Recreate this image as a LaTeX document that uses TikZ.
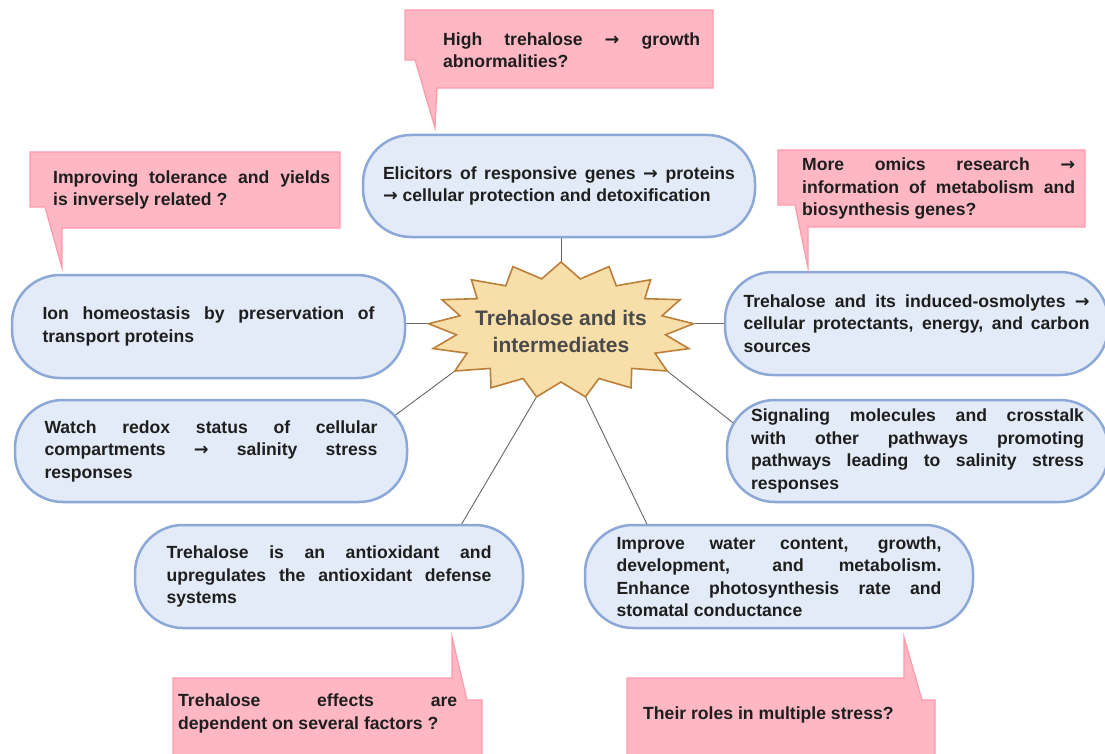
\documentclass[tikz,border=0pt]{standalone}
\usepackage{fontspec}
\setmainfont{Liberation Sans}
\newfontfamily\arrowfont{DejaVu Sans}
\newcommand\rarr{{\arrowfont\bfseries →}}
\usetikzlibrary{calc}
\usetikzlibrary{backgrounds}
\definecolor{boxfill}{HTML}{E3EBF8}
\definecolor{boxline}{HTML}{8CA8D6}
\definecolor{notefill}{HTML}{FFB7C3}
\definecolor{noteline}{HTML}{FF9AAD}
\definecolor{starfill}{HTML}{F8DFAA}
\definecolor{starline}{HTML}{BC7F3A}
\definecolor{startext}{HTML}{4A4A4A}
\definecolor{textdark}{HTML}{1E1E1E}
\tikzset{role/.style = {draw=boxline, fill=boxfill, line width=2.5pt,
                        rounded corners=48pt, align=justify, text=textdark,
                        font=\fontsize{17.6}{22.5}\selectfont\bfseries},
         note/.style = {draw=noteline, fill=notefill, line width=1.2pt},
         notetext/.style = {anchor=west, inner sep=0pt, align=justify, text=textdark,
                            font=\fontsize{17.6}{22.5}\selectfont\bfseries},
         burst/.style = {draw=starline, fill=starfill, line width=1.6pt, line join=miter},
         link/.style = {draw=black!60, line width=0.9pt}}

\begin{document}
\begin{tikzpicture}[x=1pt, y=-1pt]
    \useasboundingbox (0, 0) rectangle (1105, 754);

    \node[role, minimum width=392pt, minimum height=102pt, text width=352pt] (elic) at (559, 186)
      {Elicitors of responsive genes \rarr{} proteins\linebreak \rarr{} cellular protection and detoxification};
    \node[role, minimum width=393pt, minimum height=103pt, text width=332pt] (ion) at (208.5, 326.5)
      {Ion homeostasis by preservation of\linebreak transport proteins};
    \node[role, minimum width=383pt, minimum height=103pt, text width=346pt] (treh) at (916.5, 323.5)
      {Trehalose and its induced-osmolytes \rarr\linebreak cellular protectants, energy, and carbon\linebreak sources};
    \node[role, minimum width=392pt, minimum height=102pt, text width=333pt] (watch) at (211, 451)
      {Watch redox status of cellular\linebreak compartments \rarr{} salinity stress\linebreak responses};
    \node[role, minimum width=381pt, minimum height=102pt, text width=333pt] (signal) at (917.5, 451)
      {Signaling molecules and crosstalk\linebreak with other pathways promoting\linebreak pathways leading to salinity stress\linebreak responses};
    \node[role, minimum width=388pt, minimum height=103pt, text width=325pt] (antiox) at (329, 576.5)
      {Trehalose is an antioxidant and\linebreak upregulates the antioxidant defense\linebreak systems};
    \node[role, minimum width=388pt, minimum height=103pt, text width=325pt] (improve) at (779, 576.5)
      {Improve water content, growth,\linebreak development, and metabolism.\linebreak Enhance photosynthesis rate and\linebreak stomatal conductance};

    \foreach \k in {0,...,16} {
      \pgfmathsetmacro\a{90 + \k*360/17}
      \coordinate (s\k) at ({561 + 133*cos(\a)}, {330 - 68*sin(\a)});
    }
    \foreach \k in {1,...,17} {
      \pgfmathsetmacro\a{90 + (\k - 0.5)*360/17}
      \coordinate (v\k) at ({561 + 105*cos(\a)}, {330 - 52*sin(\a)});
    }
    \draw[burst] (s0) \foreach \k in {1,...,16} { -- (v\k) -- (s\k) } -- (v17) -- cycle;
    \node[font=\fontsize{21}{27}\selectfont\bfseries, text=startext, align=center] (core) at (561, 331)
      {Trehalose and its\\intermediates};

    \begin{scope}[on background layer]
      \draw[link] (s0) -- (s0 |- elic.south);
      \draw[link] (s4) -- (s4 -| ion.east);
      \draw[link] (s13) -- (s13 -| treh.west);
      \draw[link] (s6) -- ([xshift=-37pt, yshift=18pt]watch.east);
      \draw[link] (s11) -- ([xshift=33pt, yshift=8pt]signal.west);
      \draw[link] (s8) -- ([xshift=124pt, yshift=-15pt]antiox.north);
      \draw[link] (s9) -- ([xshift=-125pt, yshift=-15pt]improve.north);
    \end{scope}

    \draw[note] (405, 10) -- (713, 10) -- (713, 88) -- (437, 88) -- (435, 128) -- (415, 60) -- (405, 60) -- cycle;
    \node[notetext, text width=257pt] (high) at (443, 50)
      {High trehalose \rarr{} growth\linebreak abnormalities?};
    \draw[note] (30, 152) -- (340, 152) -- (340, 228) -- (62, 228) -- (62, 268) -- (45, 207) -- (30, 207) -- cycle;
    \node[notetext, text width=277pt] (yields) at (53, 190)
      {Improving tolerance and yields\linebreak is inversely related ?};
    \draw[note] (778, 150) -- (1085, 150) -- (1085, 227) -- (808, 227) -- (808, 268) -- (795, 205) -- (778, 205) -- cycle;
    \node[notetext, text width=273pt] (omics) at (802, 188.5)
      {More omics research \rarr\linebreak information of metabolism and\linebreak biosynthesis genes?};
    \draw[note] (173, 678) -- (452, 678) -- (452, 637) -- (467, 700) -- (482, 700) -- (482, 760) -- (173, 760) -- cycle;
    \node[notetext, text width=279pt] (factors) at (178, 713.5)
      {Trehalose effects are\linebreak \mbox{dependent on several factors ?}};
    \draw[note] (627, 678) -- (904, 678) -- (904, 637) -- (922, 700) -- (935, 700) -- (935, 760) -- (627, 760) -- cycle;
    \node[notetext, text width=260pt] (stress) at (643, 715)
      {Their roles in multiple stress?};
\end{tikzpicture}
\end{document}
